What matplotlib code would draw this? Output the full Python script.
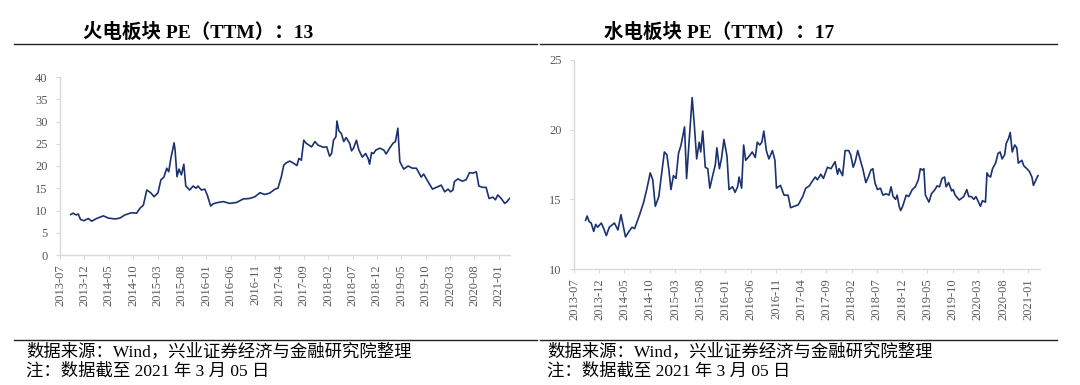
import matplotlib
matplotlib.use("Agg")
import matplotlib.pyplot as plt
from matplotlib.lines import Line2D

plt.rcParams['font.family'] = ['Liberation Serif', 'Noto Sans CJK SC', 'DejaVu Sans']

# x values are months counted from 2013-07
tick_labels = ['2013-07', '2013-12', '2014-05', '2014-10', '2015-03', '2015-08',
               '2016-01', '2016-06', '2016-11', '2017-04', '2017-09', '2018-02',
               '2018-07', '2018-12', '2019-05', '2019-10', '2020-03', '2020-08',
               '2021-01']
tick_pos = [5 * i for i in range(len(tick_labels))]

# 火电板块 PE(TTM)
hd_month = [2.2, 2.7, 3.3, 3.75, 4.2, 4.9, 5.8, 6.5, 7.5, 8.9, 9.9, 11.3, 12.3, 13.3,
            14.7, 15.7, 16.4, 17.1, 17.8, 18.6, 19.3, 20.1, 20.7, 21.3, 21.9, 22.3,
            22.7, 23.4, 23.6, 24.0, 24.4, 24.9, 25.4, 25.8, 26.6, 27.3, 27.9, 28.3,
            29.0, 29.7, 30.2, 30.9, 31.4, 32.4, 33.5, 34.8, 36.2, 37.6, 38.9, 40.0,
            41.0, 42.0, 43.0, 44.1, 44.7, 45.4, 45.9, 46.4, 47.1, 47.8, 48.6, 49.0,
            49.5, 50.0, 50.5, 51.6, 52.3, 52.9, 54.0, 54.7, 55.3, 55.7, 56.1, 56.6,
            56.8, 57.2, 57.7, 58.2, 58.7, 59.4, 59.8, 60.2, 60.8, 61.3, 62.0, 62.7,
            63.2, 63.5, 63.9, 64.3, 64.8, 65.6, 66.4, 66.9, 67.6, 68.3, 68.8, 69.3,
            69.7, 70.5, 71.4, 72.3, 73.1, 73.6, 74.1, 74.6, 75.1, 75.7, 76.4, 77.2,
            78.2, 78.9, 79.6, 80.1, 80.6, 80.9, 81.6, 82.5, 83.3, 84.0, 84.7, 85.4,
            85.9, 86.7, 87.4, 88.0, 88.8, 89.3, 89.8, 90.5, 91.2, 91.7, 92.2]
hd_pe = [9.1, 9.4, 9.0, 9.2, 8.0, 7.7, 8.2, 7.6, 8.2, 8.8, 8.3, 8.1, 8.3, 9.0,
         9.5, 9.4, 10.5, 11.2, 14.6, 14.0, 13.1, 14.0, 16.9, 17.5, 19.5, 18.7,
         21.5, 25.2, 23.6, 17.6, 19.3, 18.0, 20.4, 15.5, 14.6, 15.5, 15.0, 15.5,
         14.6, 14.8, 13.5, 11.0, 11.5, 11.8, 12.0, 11.6, 11.8, 12.6, 12.7, 13.1,
         14.0, 13.6, 13.9, 14.8, 15.0, 17.6, 20.2, 20.7, 21.1, 20.7, 20.1, 21.7,
         21.3, 25.8, 25.1, 24.3, 25.5, 24.7, 24.2, 24.3, 22.2, 22.8, 25.8, 26.6,
         30.1, 27.9, 27.3, 25.5, 26.4, 25.1, 23.4, 24.0, 25.8, 23.6, 22.0, 22.8,
         21.7, 20.4, 23.0, 22.8, 23.6, 24.0, 23.6, 22.7, 24.0, 25.1, 25.5, 28.5,
         21.0, 19.3, 20.0, 19.5, 19.5, 18.5, 17.5, 18.2, 17.2, 16.1, 14.8, 15.2,
         15.7, 14.2, 14.8, 14.2, 14.6, 16.5, 17.1, 16.6, 16.9, 18.5, 18.4, 18.7,
         15.5, 15.2, 15.2, 12.7, 13.0, 12.4, 13.5, 12.7, 11.6, 12.0, 12.7]

# 水电板块 PE(TTM)
sd_month = [2.3, 2.6, 3.0, 3.4, 3.9, 4.3, 4.7, 5.4, 5.9, 6.4, 7.0, 8.0, 8.7, 9.3,
            9.8, 10.2, 10.9, 11.5, 12.0, 12.4, 13.0, 13.8, 14.4, 15.1, 15.6, 16.1,
            16.8, 17.2, 17.9, 18.4, 18.8, 19.2, 19.7, 20.2, 20.7, 21.2, 21.9, 22.3,
            22.8, 23.4, 23.8, 24.3, 24.8, 25.1, 25.5, 26.0, 26.5, 26.9, 27.4, 28.0,
            28.3, 28.8, 29.2, 29.7, 30.3, 30.7, 31.4, 31.9, 32.4, 32.7, 33.2, 33.6,
            34.0, 34.7, 35.3, 35.9, 36.3, 36.8, 37.2, 37.6, 38.1, 38.6, 39.3, 39.8,
            40.1, 40.9, 41.6, 42.4, 42.9, 43.6, 44.4, 45.3, 45.9, 46.6, 47.2, 47.8,
            48.2, 48.9, 49.4, 50.2, 50.9, 51.7, 52.2, 52.5, 53.2, 53.7, 54.4, 54.8,
            55.3, 55.7, 56.2, 56.8, 57.2, 57.8, 58.3, 58.8, 59.2, 59.6, 60.1, 60.7,
            61.2, 61.8, 62.4, 62.8, 63.2, 63.7, 64.0, 64.4, 64.7, 65.1, 65.8, 66.3,
            67.0, 67.6, 68.2, 68.6, 69.0, 69.3, 69.6, 70.3, 70.8, 71.5, 71.9, 72.4,
            72.9, 73.4, 73.7, 74.2, 74.8, 75.1, 75.5, 76.3, 77.2, 77.8, 78.2, 78.7,
            79.2, 79.6, 80.0, 80.5, 80.9, 81.5, 81.8, 82.1, 82.5, 82.9, 83.5, 84.0,
            84.4, 84.8, 85.3, 85.6, 86.1, 86.4, 86.8, 87.3, 87.7, 88.0, 88.7, 89.1,
            89.7, 90.2, 90.7, 91.0, 91.5, 91.9]
sd_pe = [13.5, 13.8, 13.4, 13.3, 12.7, 13.2, 13.0, 13.3, 12.9, 12.4, 13.0, 13.3, 12.8, 13.9,
         13.0, 12.3, 12.7, 13.0, 12.9, 13.3, 13.9, 14.8, 15.7, 16.9, 16.4, 14.5,
         15.2, 16.4, 18.4, 18.2, 17.1, 15.7, 16.7, 16.5, 18.3, 18.9, 20.2, 16.5,
         19.1, 22.3, 20.5, 17.9, 19.1, 18.4, 19.9, 17.3, 17.2, 15.8, 16.6, 17.5,
         18.7, 17.2, 17.9, 19.3, 18.1, 15.7, 15.9, 15.5, 15.9, 16.6, 15.8, 18.9,
         17.8, 18.1, 18.4, 18.0, 19.1, 18.9, 19.1, 19.9, 18.5, 17.9, 18.5, 17.8,
         15.8, 16.0, 15.3, 15.3, 14.4, 14.5, 14.6, 15.2, 15.8, 15.96, 16.3, 16.6,
         16.4, 16.8, 16.5, 17.3, 17.2, 17.7, 16.8, 17.2, 16.7, 18.5, 18.5, 18.2,
         17.3, 17.7, 18.5, 17.7, 17.2, 16.2, 16.6, 17.1, 17.2, 16.2, 15.7, 15.8,
         15.3, 15.4, 15.3, 15.9, 15.2, 15.0, 15.3, 14.5, 14.2, 14.5, 15.3, 15.2,
         15.7, 15.9, 16.4, 17.2, 17.1, 17.2, 15.3, 14.8, 15.4, 15.7, 15.96, 15.9,
         16.5, 16.6, 15.9, 16.2, 15.6, 15.7, 15.3, 14.95, 15.2, 15.7, 15.2, 15.2,
         15.0, 15.2, 14.9, 14.5, 14.9, 14.8, 16.9, 16.7, 16.6, 17.2, 17.6, 18.3,
         18.4, 17.9, 18.2, 19.0, 19.4, 19.8, 18.4, 18.9, 18.7, 17.6, 17.8, 17.4,
         17.2, 17.0, 16.6, 16.0, 16.4, 16.7]

line_color = '#1b3270'
axis_gray = '#d9d9d9'
label_gray = '#595959'

fig = plt.figure(figsize=(10.8, 3.85), dpi=100)

ax1 = fig.add_axes([60 / 1080, 1 - 255 / 385, 450 / 1080, 178 / 385])
ax2 = fig.add_axes([574 / 1080, 1 - 269 / 385, 466 / 1080, 209 / 385])

ax1.plot(hd_month, hd_pe, color=line_color, lw=1.2)
ax1.set_ylim(0, 40)
ax1.set_yticks(range(0, 41, 5))
ax1.set_xlim(0, 92.3)

ax2.plot(sd_month, sd_pe, color=line_color, lw=1.2)
ax2.set_ylim(10, 25)
ax2.set_yticks([10, 15, 20, 25])
ax2.set_xlim(0, 92.3)

for ax in (ax1, ax2):
    for s in ['top', 'right']:
        ax.spines[s].set_visible(False)
    for s in ['left', 'bottom']:
        ax.spines[s].set_color(axis_gray)
        ax.spines[s].set_linewidth(1.0)
    ax.set_xticks(tick_pos)
    ax.set_xticklabels(tick_labels, rotation=90)
    ax.tick_params(axis='both', colors=axis_gray, labelcolor=label_gray,
                   labelsize=9, length=3, width=0.8)
    ax.tick_params(axis='y', pad=6)
    for lab in ax.get_xticklabels() + ax.get_yticklabels():
        lab.set_family('Liberation Serif')

# titles
fig.text(83 / 1080, 1 - 32 / 385, '火电板块 PE（TTM）：13', fontsize=14,
         fontweight='bold', ha='left', va='center')
fig.text(604 / 1080, 1 - 32 / 385, '水电板块 PE（TTM）：17', fontsize=14,
         fontweight='bold', ha='left', va='center')

# horizontal rules
for (x0, x1) in [(14, 537), (540, 1057)]:
    for yy in (44, 340):
        fig.add_artist(Line2D([x0 / 1080, x1 / 1080], [1 - yy / 385, 1 - yy / 385],
                              color='#222222', lw=1.0))

# source notes
for x0 in (26, 547):
    fig.text(x0 / 1080, 1 - 352 / 385, '数据来源：Wind，兴业证券经济与金融研究院整理',
             fontsize=12.5, ha='left', va='center')
    fig.text(x0 / 1080, 1 - 371 / 385, '注：数据截至 2021 年 3 月 05 日',
             fontsize=12.5, ha='left', va='center')

fig.savefig('out.png', dpi=100)
